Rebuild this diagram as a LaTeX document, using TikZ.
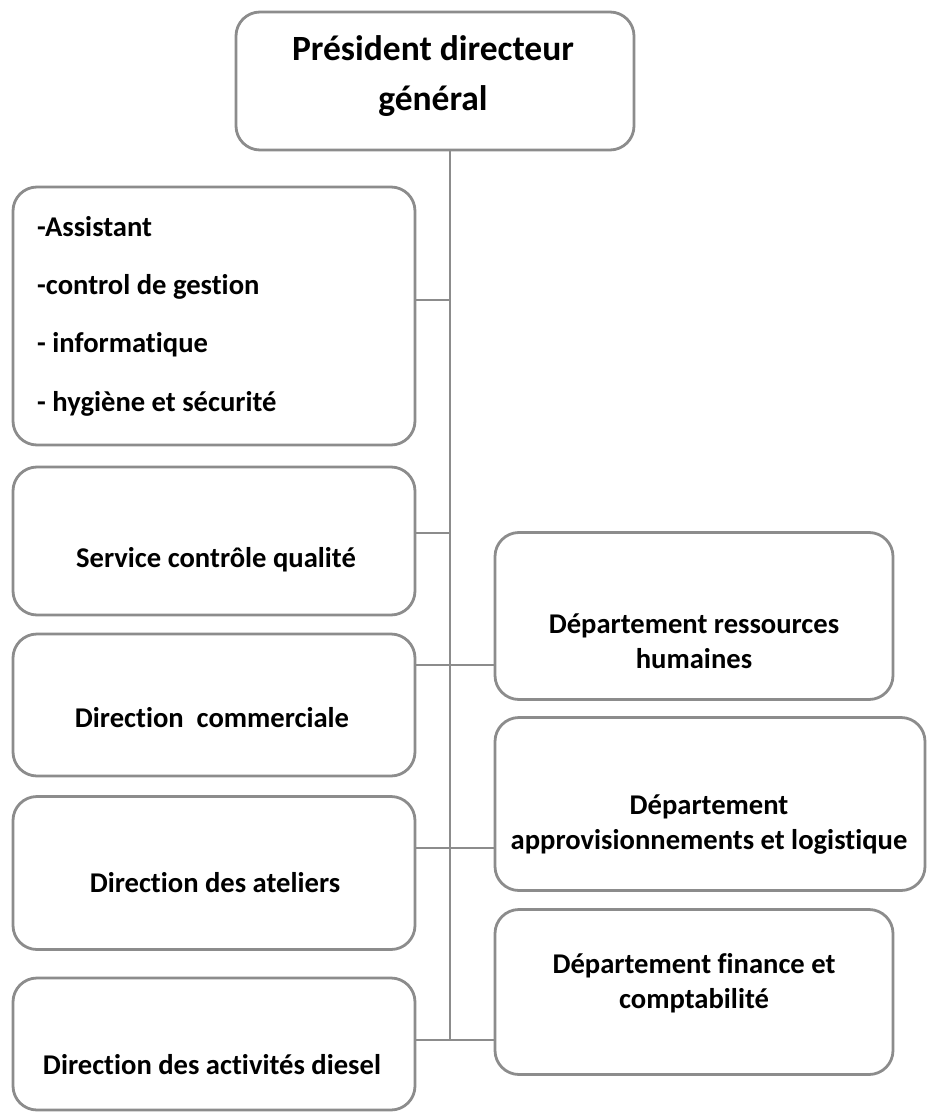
\documentclass[tikz,border=0pt]{standalone}
\usepackage{fontspec}
\setmainfont{Carlito}[Ligatures=CommonOff]
\usepackage{tikz}
\usetikzlibrary{positioning,calc}
\definecolor{orgline}{RGB}{140,140,140}

\begin{document}
\begin{tikzpicture}[x=1pt, y=-1pt,
  font=\bfseries\fontsize{28.6}{35}\selectfont,
  unit/.style={draw=orgline, line width=2.8pt, rounded corners=24pt, inner sep=0pt, minimum width=402pt},
  txt/.style={align=center, inner sep=0pt},
  link/.style={draw=orgline, line width=2.8pt}]
  \useasboundingbox (0,0) rectangle (926,1115);
  % ---- top: general management ----
  \node[unit, minimum width=398pt, minimum height=138pt] (pdg) at (435,81) {};
  \node[txt, font=\bfseries\fontsize{35.5}{50}\selectfont] (pdg-t) at (433,76) {Président directeur\\ général};
  % ---- left column: staff and directions ----
  \node[unit, minimum height=258pt] (assist) at (214,316) {};
  \node[txt, align=left, anchor=west, font=\bfseries\fontsize{28.6}{58.3}\selectfont] (assist-t) at (37,316)
    {-Assistant\\ -control de gestion\\ - informatique\\ - hygiène et sécurité};
  \node[unit, minimum height=148pt] (service) at (214,541) {};
  \node[txt] (service-t) at (216,560) {Service contrôle qualité};
  \node[unit, minimum height=142pt] (dircom) at (214,705) {};
  \node[txt] (dircom-t) at (212,718) {Direction\ \ commerciale};
  \node[unit, minimum height=153pt] (ateliers) at (214,873) {};
  \node[txt] (ateliers-t) at (215,883) {Direction des ateliers};
  \node[unit, minimum height=132pt] (diesel) at (214,1044) {};
  \node[txt] (diesel-t) at (212,1065) {Direction des activités diesel};
  % ---- right column: departments ----
  \node[unit, minimum width=398pt, minimum height=167pt] (rh) at (694,616) {};
  \node[txt] (rh-t) at (694,641) {Département ressources\\ humaines};
  \node[unit, minimum width=430pt, minimum height=173pt] (appro) at (710,804) {};
  \node[txt] (appro-t) at (709,825) {Département\\ approvisionnements et logistique};
  \node[unit, minimum width=398pt, minimum height=165pt] (finance) at (694,992) {};
  \node[txt] (finance-t) at (694,983) {Département finance et\\ comptabilité};
  % ---- trunk and branches ----
  \coordinate (j1) at (450,300);
  \coordinate (j2) at (450,533);
  \coordinate (j3) at (450,665);
  \coordinate (j4) at (450,848);
  \coordinate (j5) at (450,1040);
  \draw[link] (j1 |- pdg.south) -- (j5);
  \draw[link] (assist.east |- j1) -- (j1);
  \draw[link] (service.east |- j2) -- (j2);
  \draw[link] (dircom.east |- j3) -- (rh.west |- j3);
  \draw[link] (ateliers.east |- j4) -- (appro.west |- j4);
  \draw[link] (diesel.east |- j5) -- (finance.west |- j5);
\end{tikzpicture}
\end{document}
